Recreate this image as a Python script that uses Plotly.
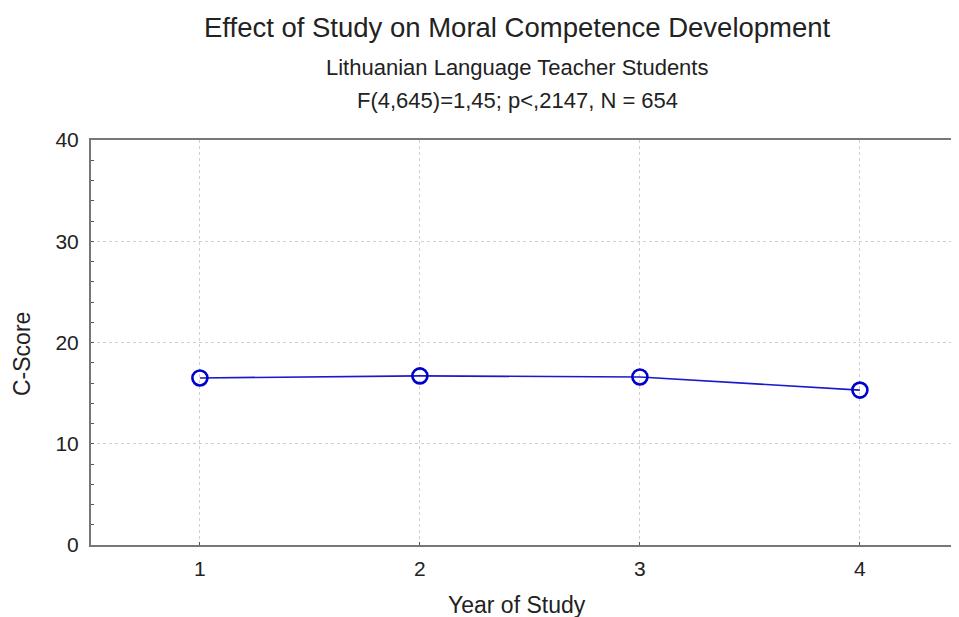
import plotly.graph_objects as go

years = [1, 2, 3, 4]
c_score = [16.5, 16.7, 16.6, 15.3]
x_ticks = [1, 2, 3, 4]
y_ticks = [0, 10, 20, 30, 40]

FONT = "Liberation Sans, Arial, sans-serif"
W, H = 1000, 617
OFF = 8  # page body margin in the browser
L, R, T, B = 91 - OFF, 0, 140 - OFF, H - (545 - OFF)
PW, PH = W - L - R, H - T - B
X0 = 0.505
X1 = X0 + PW / 220.0  # 220 px per year, plot runs past the window edge

fig = go.Figure()
fig.add_trace(go.Scatter(
    x=years, y=c_score, mode="lines+markers",
    line=dict(color="#1a1acc", width=1.6),
    marker=dict(symbol="circle-open", size=15, color="#0000cc", line=dict(width=2.6, color="#0000cc")),
    showlegend=False,
))

fig.update_layout(
    width=W, height=H,
    margin=dict(l=L, r=R, t=T, b=B, autoexpand=False),
    paper_bgcolor="white", plot_bgcolor="white",
    font=dict(family=FONT, color="#222", size=21),
    xaxis=dict(
        range=[X0, X1], tickvals=x_ticks, ticktext=[str(v) for v in x_ticks],
        showgrid=True, gridcolor="#d0d0d0", griddash="dot", gridwidth=1,
        showline=True, linecolor="#777", linewidth=2, mirror=True,
        ticks="inside", ticklen=3, tickcolor="#555",
        zeroline=False, automargin=False, ticklabelstandoff=4,
        tickfont=dict(size=21),
    ),
    yaxis=dict(
        range=[0, 40], tickvals=y_ticks,
        showgrid=True, gridcolor="#d0d0d0", griddash="dot", gridwidth=1,
        showline=True, linecolor="#777", linewidth=2, mirror=False,
        ticks="inside", ticklen=3, tickcolor="#555",
        minor=dict(dtick=2, ticks="inside", ticklen=3, tickcolor="#555", showgrid=False),
        zeroline=False, automargin=False, ticklabelstandoff=6,
        tickfont=dict(size=21),
    ),
)

def px_x(sx):
    return (sx - OFF - L) / PW

def px_y(sy):
    return (T + PH - (sy - OFF)) / PH

annots = [
    ("Effect of Study on Moral Competence Development", 517, 28, 27.5, 0),
    ("Lithuanian Language Teacher Students", 517, 67, 22, 0),
    ("F(4,645)=1,45; p<,2147, N = 654", 517, 100, 22, 0),
    ("Year of Study", 517, 605, 23, 0),
    ("C-Score", 22, 354, 23, -90),
]
for text, sx, sy, size, ang in annots:
    fig.add_annotation(text=text, x=px_x(sx), y=px_y(sy),
                       xref="paper", yref="paper", showarrow=False,
                       xanchor="center", yanchor="middle", textangle=ang,
                       font=dict(size=size, family=FONT, color="#222"))

fig.write_html("out.html")
